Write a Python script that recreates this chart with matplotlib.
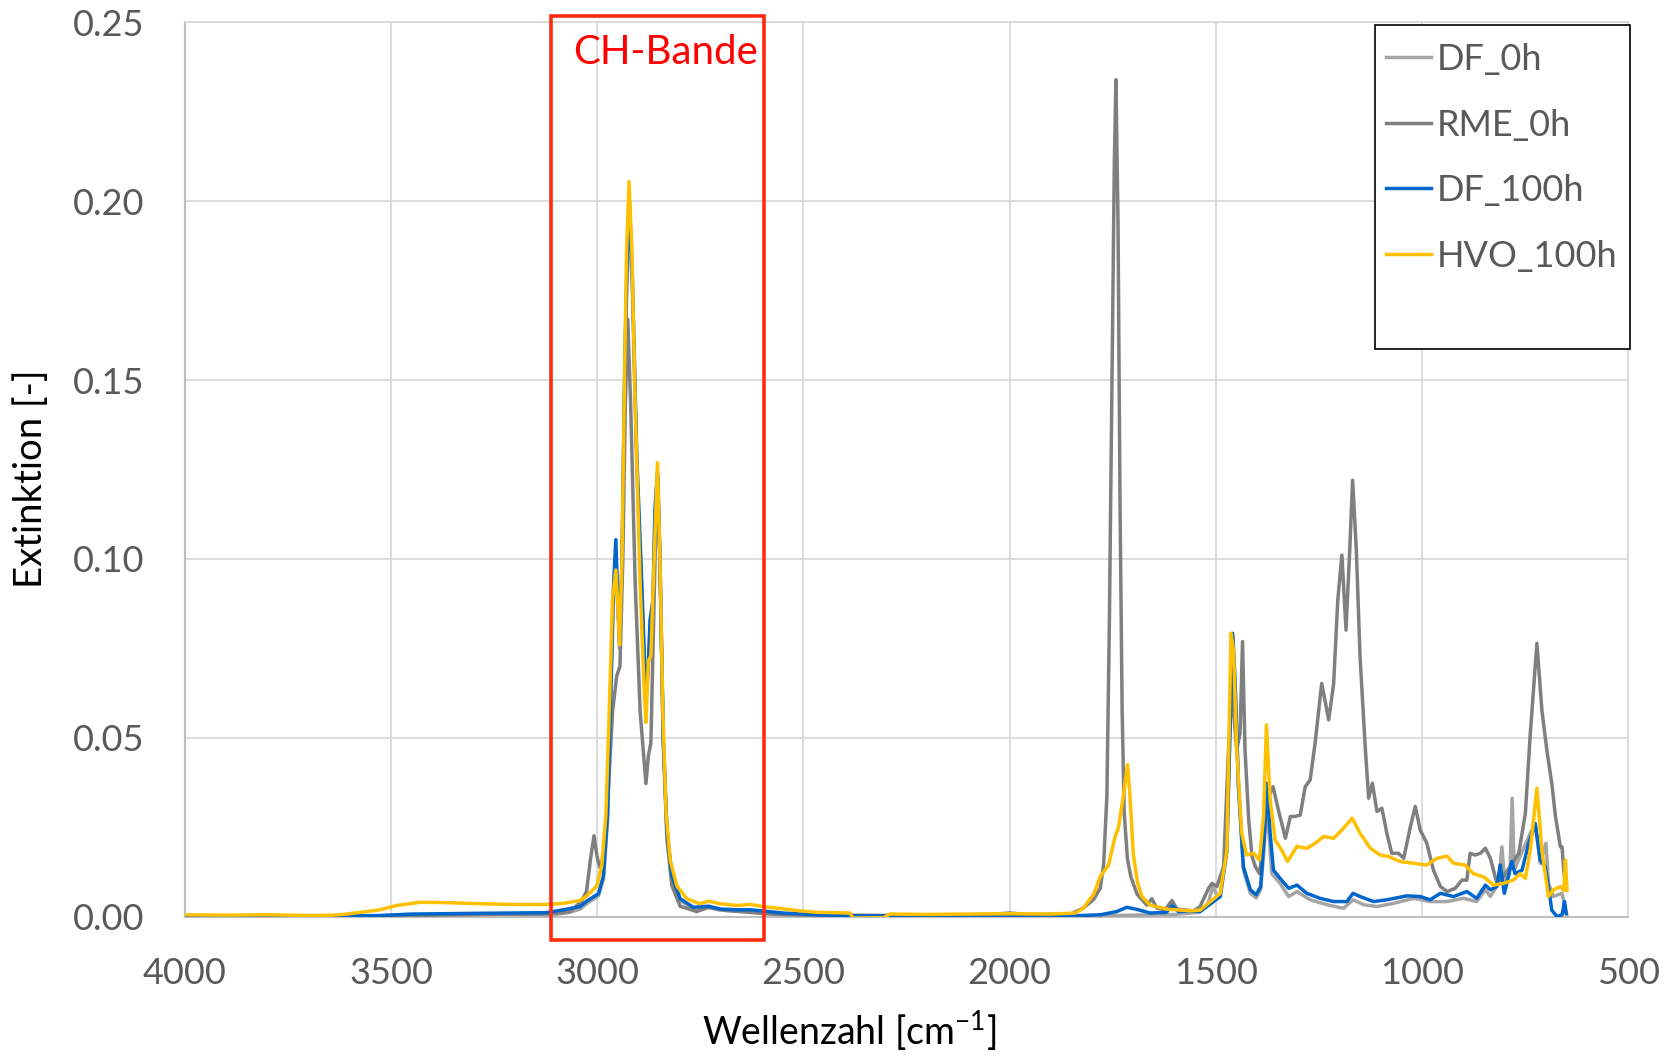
import matplotlib
matplotlib.use("Agg")
import matplotlib.pyplot as plt
from matplotlib.patches import Rectangle
from matplotlib.ticker import FormatStrFormatter

plt.rcParams['font.family'] = ['Lato', 'DejaVu Sans']
plt.rcParams['mathtext.fontset'] = 'custom'
plt.rcParams['mathtext.rm'] = 'Lato'
plt.rcParams['mathtext.it'] = 'Lato'

# ---- spectra (wavenumber in cm^-1, extinction) ----
df0_wn = [4000, 3800, 3600, 3450, 3300, 3200, 3111, 3066, 3040, 3026, 2997, 2985, 2975, 2967,
          2961, 2955, 2951, 2946, 2940, 2933, 2927, 2922, 2915, 2904, 2892, 2882, 2876, 2872,
          2865, 2860, 2854, 2848, 2840, 2831, 2819, 2799, 2767, 2730, 2702, 2662, 2620, 2550,
          2450, 2300, 2100, 2000, 1900, 1800, 1700, 1600, 1540, 1520, 1507, 1497, 1489, 1473,
          1462, 1458, 1453, 1445, 1433, 1416, 1402, 1391, 1382, 1376, 1364, 1344, 1323, 1303,
          1271, 1230, 1190, 1167, 1141, 1109, 1069, 1020, 980, 939, 899, 867, 846, 834, 814,
          806, 798, 786, 781, 776, 762, 737, 725, 713, 699, 693, 681, 660, 652, 648]
df0_val = [0.0001, 0.0000, 0.0001, 0.0003, 0.0005, 0.0006, 0.0004, 0.0012, 0.0022, 0.0036,
           0.0058, 0.0105, 0.0270, 0.0610, 0.0880, 0.1010, 0.0890, 0.0750, 0.0980, 0.1530,
           0.1820, 0.1950, 0.1750, 0.1250, 0.0900, 0.0590, 0.0700, 0.0800, 0.0860, 0.1110,
           0.1210, 0.0970, 0.0480, 0.0230, 0.0105, 0.0045, 0.0022, 0.0025, 0.0018, 0.0016,
           0.0014, 0.0008, 0.0004, 0.0002, 0.0003, 0.0006, 0.0003, 0.0002, 0.0004, 0.0006,
           0.0012, 0.0030, 0.0085, 0.0060, 0.0060, 0.0180, 0.0700, 0.0780, 0.0650, 0.0360,
           0.0130, 0.0065, 0.0052, 0.0075, 0.0200, 0.0320, 0.0120, 0.0093, 0.0056, 0.0070,
           0.0047, 0.0033, 0.0023, 0.0047, 0.0033, 0.0028, 0.0037, 0.0051, 0.0042, 0.0042,
           0.0051, 0.0042, 0.0075, 0.0056, 0.0093, 0.0195, 0.0084, 0.0140, 0.0331, 0.0130,
           0.0168, 0.0233, 0.0260, 0.0149, 0.0205, 0.0093, 0.0056, 0.0065, 0.0020, 0.0000]

rme_wn = [4000, 3800, 3600, 3450, 3300, 3200, 3111, 3066, 3038, 3026, 3016, 3008, 3000, 2993,
          2985, 2973, 2963, 2953, 2945, 2938, 2932, 2926, 2919, 2908, 2896, 2886, 2882, 2876,
          2870, 2864, 2857, 2853, 2848, 2840, 2831, 2819, 2799, 2759, 2730, 2686, 2621, 2581,
          2500, 2200, 2050, 2000, 1950, 1850, 1821, 1796, 1780, 1772, 1764, 1758, 1752, 1746,
          1742, 1737, 1732, 1727, 1722, 1714, 1706, 1691, 1667, 1655, 1643, 1623, 1606, 1594,
          1554, 1538, 1517, 1509, 1497, 1481, 1469, 1461, 1449, 1441, 1435, 1429, 1420, 1412,
          1404, 1394, 1384, 1376, 1361, 1348, 1331, 1319, 1307, 1295, 1283, 1271, 1259, 1243,
          1226, 1214, 1204, 1194, 1184, 1175, 1168, 1159, 1150, 1137, 1129, 1120, 1109, 1097,
          1085, 1073, 1057, 1044, 1028, 1016, 1004, 988, 972, 955, 939, 919, 903, 891, 883,
          871, 858, 846, 834, 818, 802, 786, 765, 749, 737, 721, 709, 697, 685, 676, 664, 660,
          656, 650]
rme_val = [0.0001, 0.0000, 0.0001, 0.0004, 0.0006, 0.0007, 0.0008, 0.0014, 0.0043, 0.0071,
           0.0164, 0.0226, 0.0164, 0.0136, 0.0171, 0.0357, 0.0572, 0.0672, 0.0700, 0.1000,
           0.1430, 0.1670, 0.1430, 0.0930, 0.0572, 0.0429, 0.0372, 0.0450, 0.0486, 0.0786,
           0.1143, 0.1229, 0.1000, 0.0500, 0.0214, 0.0086, 0.0029, 0.0014, 0.0026, 0.0017,
           0.0011, 0.0007, 0.0004, 0.0003, 0.0006, 0.0010, 0.0005, 0.0008, 0.0024, 0.0048,
           0.0080, 0.0144, 0.0337, 0.0818, 0.1460, 0.2102, 0.2340, 0.1942, 0.1140, 0.0577,
           0.0289, 0.0160, 0.0112, 0.0063, 0.0032, 0.0050, 0.0024, 0.0019, 0.0045, 0.0021,
           0.0016, 0.0028, 0.0080, 0.0093, 0.0084, 0.0140, 0.0466, 0.0634, 0.0466, 0.0513,
           0.0769, 0.0466, 0.0270, 0.0168, 0.0140, 0.0120, 0.0205, 0.0326, 0.0363, 0.0298,
           0.0219, 0.0280, 0.0280, 0.0284, 0.0363, 0.0382, 0.0485, 0.0652, 0.0550, 0.0652,
           0.0885, 0.1011, 0.0801, 0.1025, 0.1220, 0.1025, 0.0727, 0.0466, 0.0331, 0.0373,
           0.0294, 0.0303, 0.0233, 0.0177, 0.0177, 0.0163, 0.0251, 0.0308, 0.0242, 0.0205,
           0.0130, 0.0084, 0.0070, 0.0079, 0.0102, 0.0102, 0.0177, 0.0172, 0.0177, 0.0191,
           0.0163, 0.0093, 0.0112, 0.0140, 0.0177, 0.0289, 0.0513, 0.0764, 0.0578, 0.0466,
           0.0373, 0.0280, 0.0195, 0.0195, 0.0130, 0.0075]

df100_wn = [4000, 3800, 3650, 3600, 3527, 3450, 3300, 3204, 3123, 3082, 3042, 3026, 2997, 2985,
            2975, 2967, 2961, 2955, 2951, 2946, 2940, 2933, 2927, 2922, 2915, 2904, 2892, 2882,
            2876, 2872, 2865, 2860, 2854, 2848, 2840, 2831, 2819, 2799, 2767, 2730, 2702, 2662,
            2629, 2549, 2468, 2400, 2200, 2000, 1850, 1780, 1740, 1716, 1691, 1659, 1620, 1606,
            1590, 1560, 1538, 1489, 1473, 1459, 1453, 1445, 1433, 1416, 1402, 1391, 1382, 1376,
            1368, 1360, 1344, 1323, 1303, 1279, 1247, 1214, 1182, 1167, 1150, 1117, 1085, 1036,
            1004, 980, 955, 923, 891, 867, 846, 834, 818, 810, 800, 790, 782, 774, 757, 741, 725,
            713, 701, 693, 685, 672, 660, 654, 650]
df100_val = [0.0002, 0.0001, 0.0001, 0.0002, 0.0003, 0.0007, 0.0009, 0.0010, 0.0011, 0.0019,
             0.0028, 0.0043, 0.0064, 0.0114, 0.0286, 0.0643, 0.0914, 0.1054, 0.0914, 0.0764,
             0.1000, 0.1570, 0.1860, 0.2000, 0.1790, 0.1286, 0.0930, 0.0600, 0.0714, 0.0829,
             0.0886, 0.1143, 0.1243, 0.1000, 0.0500, 0.0243, 0.0114, 0.0050, 0.0026, 0.0029,
             0.0021, 0.0019, 0.0019, 0.0010, 0.0005, 0.0002, 0.0002, 0.0002, 0.0002, 0.0005,
             0.0014, 0.0026, 0.0020, 0.0010, 0.0012, 0.0030, 0.0014, 0.0016, 0.0014, 0.0056,
             0.0186, 0.0792, 0.0652, 0.0373, 0.0140, 0.0075, 0.0061, 0.0084, 0.0233, 0.0373,
             0.0233, 0.0130, 0.0107, 0.0079, 0.0088, 0.0065, 0.0051, 0.0042, 0.0042, 0.0065,
             0.0056, 0.0042, 0.0047, 0.0058, 0.0056, 0.0047, 0.0065, 0.0056, 0.0070, 0.0051,
             0.0088, 0.0075, 0.0084, 0.0144, 0.0065, 0.0112, 0.0154, 0.0120, 0.0130, 0.0205,
             0.0260, 0.0158, 0.0140, 0.0084, 0.0018, 0.0000, 0.0005, 0.0042, 0.0009]

hvo_wn = [4000, 3900, 3800, 3700, 3640, 3608, 3560, 3527, 3487, 3430, 3365, 3284, 3204, 3123,
          3082, 3042, 3026, 3001, 2989, 2979, 2971, 2963, 2955, 2951, 2946, 2940, 2934, 2929,
          2923, 2916, 2908, 2896, 2886, 2882, 2876, 2870, 2862, 2854, 2848, 2841, 2833, 2823,
          2807, 2783, 2751, 2730, 2702, 2662, 2629, 2597, 2508, 2468, 2387, 2380, 2306, 2290,
          2200, 2100, 2000, 1900, 1840, 1821, 1796, 1780, 1760, 1744, 1736, 1724, 1714, 1708,
          1700, 1690, 1679, 1659, 1619, 1562, 1538, 1489, 1473, 1463, 1457, 1449, 1437, 1425,
          1408, 1394, 1384, 1377, 1368, 1356, 1340, 1326, 1303, 1279, 1259, 1238, 1214, 1194,
          1169, 1150, 1125, 1101, 1081, 1053, 1020, 988, 964, 939, 923, 895, 875, 850, 826, 802,
          778, 762, 749, 737, 721, 709, 693, 681, 664, 656, 652, 648]
hvo_val = [0.0005, 0.0004, 0.0005, 0.0003, 0.0004, 0.0007, 0.0014, 0.0019, 0.0031, 0.0040,
           0.0039, 0.0036, 0.0034, 0.0034, 0.0037, 0.0045, 0.0057, 0.0086, 0.0143, 0.0286,
           0.0572, 0.0886, 0.0969, 0.0886, 0.0760, 0.1000, 0.1500, 0.1860, 0.2055, 0.1860,
           0.1430, 0.0930, 0.0630, 0.0543, 0.0714, 0.0730, 0.1000, 0.1269, 0.1000, 0.0572,
           0.0286, 0.0157, 0.0086, 0.0050, 0.0036, 0.0043, 0.0036, 0.0031, 0.0034, 0.0028,
           0.0016, 0.0012, 0.0010, -0.0004, -0.0003, 0.0007, 0.0006, 0.0007, 0.0008, 0.0007,
           0.0010, 0.0024, 0.0063, 0.0112, 0.0144, 0.0224, 0.0248, 0.0337, 0.0425, 0.0337,
           0.0176, 0.0096, 0.0056, 0.0032, 0.0021, 0.0016, 0.0018, 0.0065, 0.0186, 0.0792,
           0.0746, 0.0466, 0.0233, 0.0172, 0.0177, 0.0158, 0.0280, 0.0536, 0.0326, 0.0214,
           0.0186, 0.0154, 0.0196, 0.0191, 0.0205, 0.0224, 0.0219, 0.0242, 0.0275, 0.0233,
           0.0191, 0.0172, 0.0168, 0.0154, 0.0149, 0.0144, 0.0163, 0.0169, 0.0149, 0.0144,
           0.0120, 0.0111, 0.0088, 0.0093, 0.0102, 0.0120, 0.0107, 0.0186, 0.0359, 0.0186,
           0.0056, 0.0075, 0.0084, 0.0074, 0.0158, 0.0074]

series_names = ["DF_0h", "RME_0h", "DF_100h", "HVO_100h"]
series_colors = ["#A5A5A5", "#7F7F7F", "#0066CC", "#FFC000"]

ytick_vals = [0.00, 0.05, 0.10, 0.15, 0.20, 0.25]
xtick_vals = [4000, 3500, 3000, 2500, 2000, 1500, 1000, 500]

band_label = "CH-Bande"
band_from, band_to = 3112, 2596

# ---- figure ----
fig = plt.figure(figsize=(16.77, 10.55), dpi=100)
ax = fig.add_axes([0.1103, 0.1312, 0.8605, 0.8475])

data = [(df0_wn, df0_val), (rme_wn, rme_val), (df100_wn, df100_val), (hvo_wn, hvo_val)]
handles = []
for (wn, val), name, col in zip(data, series_names, series_colors):
    ln, = ax.plot(wn, val, color=col, lw=2.5, label=name, solid_joinstyle='round', zorder=3)
    handles.append(ln)

ax.set_xlim(4000, 500)
ax.set_ylim(0, 0.25)
ax.set_xticks(xtick_vals)
ax.set_yticks(ytick_vals)
ax.yaxis.set_major_formatter(FormatStrFormatter('%.2f'))
ax.tick_params(axis='both', length=0, labelsize=26, labelcolor='#595959')
ax.tick_params(axis='y', pad=29)
ax.tick_params(axis='x', pad=29)

ax.grid(True, color='#D9D9D9', lw=1.3, zorder=0)
ax.set_axisbelow(True)
for side in ['top', 'right']:
    ax.spines[side].set_color('#D9D9D9')
    ax.spines[side].set_linewidth(1.3)
for side in ['left', 'bottom']:
    ax.spines[side].set_color('#BFBFBF')
    ax.spines[side].set_linewidth(1.5)

ax.set_xlabel('Wellenzahl [cm$^{-1}$]', fontsize=27, color='black')
ax.set_ylabel('Extinktion [-]', fontsize=27.5, color='black')
ax.xaxis.set_label_coords(0.46, -0.103)
ax.yaxis.set_label_coords(-0.094, 0.49)

# highlighted C-H stretching band
ax.add_patch(Rectangle((band_from, -0.0065), band_to - band_from, 0.2583,
                       fill=False, ec='#FF2A12', lw=2.6, clip_on=False, zorder=5))
ax.text(2835, 0.2415, band_label, color='#FF0000', fontsize=29,
        ha='center', va='center', zorder=6)

# legend with framed box
leg = ax.legend(handles=handles, loc='upper left', bbox_to_anchor=(0.8323, 0.977),
                frameon=False, fontsize=26, handlelength=1.25, handletextpad=0.15,
                labelspacing=0.9, borderpad=0, borderaxespad=0)
for t in leg.get_texts():
    t.set_color('#595959')
for lh in leg.legend_handles:
    lh.set_linewidth(2.5)
ax.add_patch(Rectangle((0.8247, 0.6353), 1.0014 - 0.8247, 0.9977 - 0.6353,
                       transform=ax.transAxes, fill=True, fc='white', ec='black',
                       lw=1.2, clip_on=False, zorder=4))
leg.set_zorder(7)

fig.savefig('out.png', dpi=100)
